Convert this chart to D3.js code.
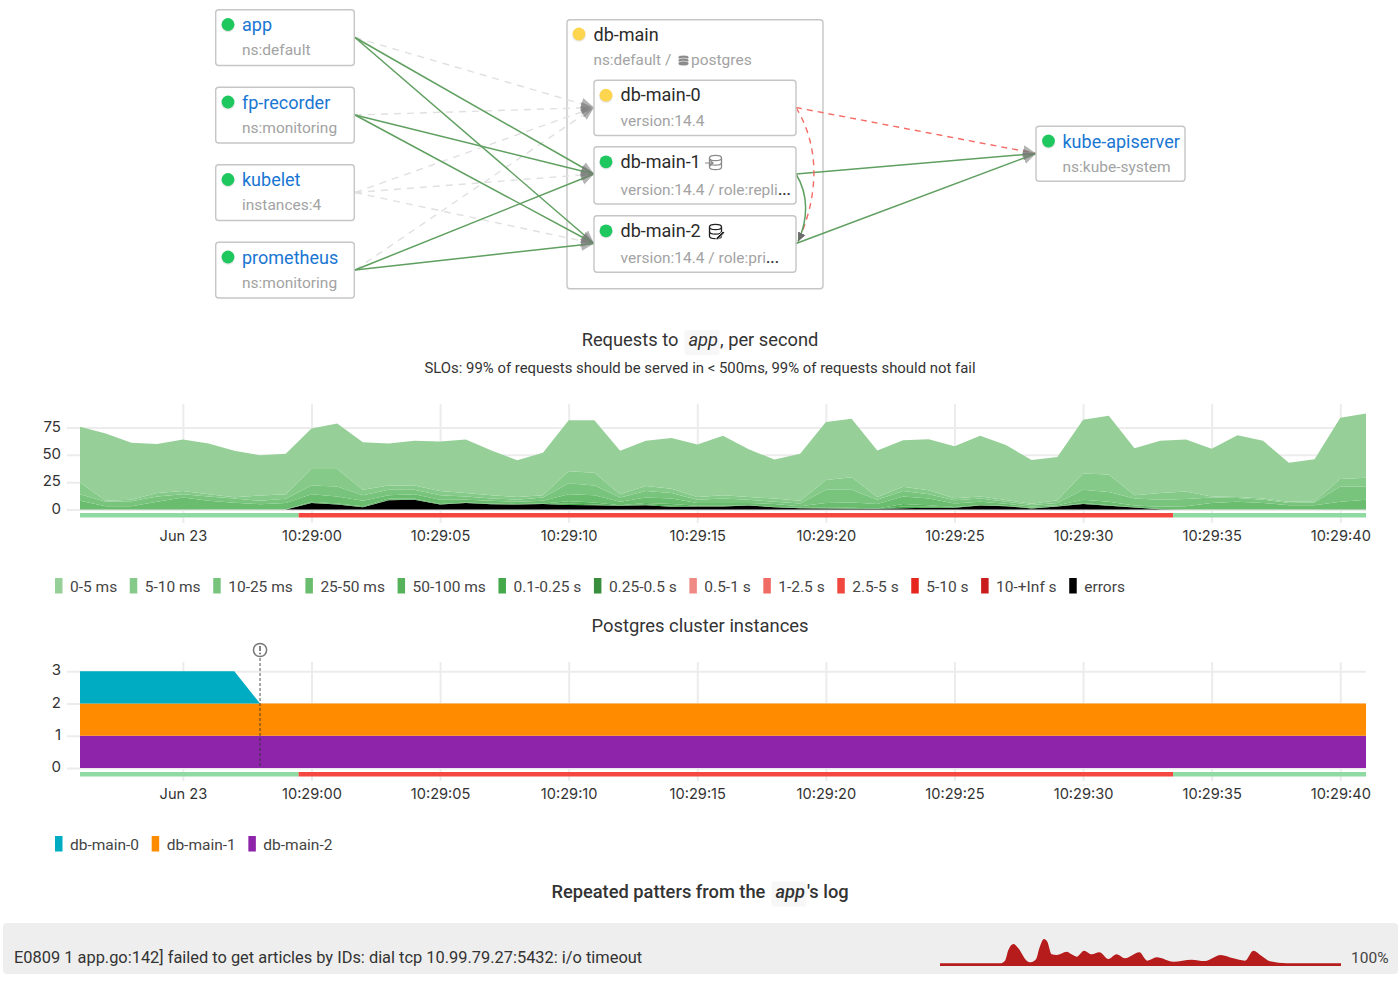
<!DOCTYPE html>
<html><head><meta charset="utf-8">
<script src="https://cdnjs.cloudflare.com/ajax/libs/d3/7.8.5/d3.min.js"></script>
<style>
html,body{margin:0;padding:0;background:#fff}
svg{display:block}
text{font-family:Roboto,sans-serif}
.tick text{font-family:Inter,"Open Sans",sans-serif}
</style></head><body>
<svg id="c" width="1400" height="993"></svg>
<script>
// ---------- data ----------
const seconds = d3.range(-9, 42);
const tickSeconds = [-5,0,5,10,15,20,25,30,35,40];
const tickLabels = ['Jun 23','10:29:00','10:29:05','10:29:10','10:29:15','10:29:20','10:29:25','10:29:30','10:29:35','10:29:40'];
const yTicksRequests = [0,25,50,75];
const yTicksInstances = [0,1,2,3];

const latency0_5 = [50.6,61.5,52,45,47,46.4,42.7,36.7,37,37,41.7,43.6,38.4,40.8,45.2,49,41,33.5,39,46.7,48.2,39.7,41.2,46.5,48,54.4,43.5,35.7,43,53,53.6,42.5,42.7,46.6,47.5,55.4,50.3,40,39.5,49,53.7,43,47.8,47.5,43.5,56.5,52.8,35.7,38.5,56,58.8];
const latency5_10 = [11,1,1.5,3,3,2,1,5,4,15,16,5,4,4,4,3,3,2.5,2,11,11.5,3,4.6,4,2.5,3,2.5,3,2.5,9,11.5,2.5,3.7,3.7,2,2,1.5,1,2.5,15,16,3,6,7,1,1,1,1,1,7,8];
const latency10_25 = [6,4,4.5,5,3,4,4,3,4,8,9,5,5,4,4,3,2,2,3,10,9,4,6,5,3,4,3,2,2.5,12,11.5,4,5,4,3,3,2,1.5,2,9,9,6.5,6.5,6.5,5,3.5,3,2,2.5,14,12];
const latency25_50 = [7.5,2.6,2.6,6.5,10.5,7.7,5.8,4.6,5.6,7,6.5,5,3,4,4,2.5,2.5,2,2.5,6.5,6.5,3,5,5,2.6,2.6,2,2.6,1.4,4.5,5,4,7,6,3,2.8,1.7,1.2,1,3,2.9,1.6,2,2.8,5.8,6.8,5.8,3.8,3.8,6.6,8.6];
const latency50_100 = [0.3,0.2,0.2,0.3,0.3,0.2,0.2,0.2,0.2,0.7,0.7,0.6,1,0.6,0.4,0.4,0.4,0.3,0.4,2,2,0.3,1.3,1.6,0.5,0.5,0.3,0.3,0.3,0.3,0.5,0.3,2.3,1.2,0.4,0.3,0.2,0.2,0.2,0.6,0.4,0.1,0.1,0.1,0.1,0.1,0.1,0.1,0.1,0.2,0.2];
const latency100_250 = [0.2,0.2,0.2,0.2,0.2,0.1,0.1,0.1,0.1,0.3,0.3,0.4,0.5,0.4,0.1,0.1,0.2,0.2,0.1,1.3,0.5,0.2,0.7,0.9,0.2,0.2,0.1,0.1,0.1,0.2,0.4,0.1,1.5,1.3,0.5,0.3,0.3,0.3,0.1,0.4,0.2,0.1,0.1,0.1,0.1,0.1,0.1,0.1,0.1,0.2,0.2];
const latencyEmpty = seconds.map(() => 0);
const errorsPerSecond = [0,0,0,0,0,0,0,0,0,6,4.5,2,8.5,9,4.5,6,4.9,4.5,5,4.2,4,3.5,4,2.5,2.7,2.7,3.6,2,1.2,1,0.6,0.6,1.2,1.5,1.5,3.6,3,1,2.7,5,3.5,1.8,0.3,0,0,0,0,0,0,0,0];

const requestNames = ['0-5 ms','5-10 ms','10-25 ms','25-50 ms','50-100 ms','0.1-0.25 s','0.25-0.5 s','0.5-1 s','1-2.5 s','2.5-5 s','5-10 s','10-+Inf s','errors'];
const requestColors = ['#96d098','#86ca8a','#79c47d','#6abc6e','#57b25c','#45a84a','#388e3c','#ef8a85','#ef6b63','#f0483f','#e6251e','#c91c1c','#000000'];
const requestValues = [latency0_5,latency5_10,latency10_25,latency25_50,latency50_100,latency100_250,latencyEmpty,latencyEmpty,latencyEmpty,latencyEmpty,latencyEmpty,latencyEmpty,errorsPerSecond];

const instanceNames = ['db-main-0','db-main-1','db-main-2'];
const instanceColors = ['#00acc1','#ff8c00','#8e24aa'];
const instanceSeconds = [-9,-3,-2,41];
const instance0 = [1,1,0,0];
const instance1 = [1,1,1,1];
const instance2 = [1,1,1,1];

const slaBreachStart = -0.5, slaBreachEnd = 33.5, chartStart = -9, chartEnd = 41;
const eventSecond = -2;

const sparkPos = [0,180,195,205,220,235,260,272,288,298,312,322,335,350,380,395,410,432,455,478,505,530,555,598,622,650,700,755,795,842,880,915,940,965,990,1040,1203];
const sparkVal = [8,8,16,48,66,53,16,11,20,53,81,73,35,33,43,35,28,46,35,41,21,35,23,41,16,26,13,19,15,33,23,16,46,30,14,8,8];

const upstreamNodes = [['app','ns:default'],['fp-recorder','ns:monitoring'],['kubelet','instances:4'],['prometheus','ns:monitoring']];
const dbNodes = [['db-main-0','version:14.4','','warn'],['db-main-1','version:14.4 / role:repli','...','ok'],['db-main-2','version:14.4 / role:pri','...','ok']];
const edgesIn = [['app',0,'off'],['app',1,'ok'],['app',2,'ok'],['fp-recorder',0,'off'],['fp-recorder',1,'ok'],['fp-recorder',2,'ok'],['kubelet',0,'off'],['kubelet',1,'off'],['kubelet',2,'off'],['prometheus',0,'off'],['prometheus',1,'ok'],['prometheus',2,'ok']];
const edgesOut = [[0,'bad'],[1,'ok'],[2,'ok']];

const logLine = 'E0809 1 app.go:142] failed to get articles by IDs: dial tcp 10.99.79.27:5432: i/o timeout';

// ---------- layout ----------
const svg = d3.select('#c');
const base = new Date(2023,5,23,10,29,0);
const toDate = s => new Date(+base + s*1000);
const X = d3.scaleTime().domain([toDate(chartStart),toDate(chartEnd)]).range([80,1366]);

const GREEN='#1fc75f', YELLOW='#fdd54f', BLUE='#1976d2', GREY='#a3a3a3', DARK='#333', BORDER='#c6c6c6';

function richTitle(y, pieces, size, weight){
  const g = svg.append('g');
  const items = pieces.map(p=>{
    const t = g.append('text').attr('y',y).attr('font-size',size).attr('font-weight',weight||400).attr('fill',DARK)
      .attr('font-style',p.code?'italic':'normal').attr('xml:space','preserve').style('white-space','pre').text(p.t);
    return {t,p,w:t.node().getComputedTextLength()};
  });
  const total = d3.sum(items,d=>d.w+(d.p.code?7.5:0));
  let x = 700-total/2;
  items.forEach(d=>{
    if(d.p.code){
      g.insert('rect','text').attr('x',x+1.5).attr('y',y-16).attr('width',d.w+5.5).attr('height',25).attr('rx',2).attr('fill','#f7f7f7');
      d.t.attr('x',x+5.5); x+=d.w+7.5;
    } else { d.t.attr('x',x); x+=d.w; }
  });
}

function timeAxis(top,bottom,labelY){
  const g = svg.append('g').attr('transform',`translate(0,${bottom})`).call(
    d3.axisBottom(X).tickValues(tickSeconds.map(toDate)).tickSize(-(bottom-top)).tickFormat((d,i)=>tickLabels[i]));
  g.select('.domain').remove();
  g.selectAll('line').attr('stroke','#ececec').attr('stroke-width',2);
  g.selectAll('text').attr('y',labelY-bottom).attr('dy',0).attr('font-size',14.6).attr('fill',DARK);
}
function valueAxis(y,ticks){
  const g = svg.append('g').attr('transform','translate(80,0)').call(d3.axisLeft(y).tickValues(ticks).tickFormat(d3.format('d')));
  g.select('.domain').remove();
  g.selectAll('line').attr('x1',-13).attr('x2',1286).attr('stroke','#ececec').attr('stroke-width',2);
  g.selectAll('text').attr('x',-19).attr('dy','0.24em').attr('font-size',15).attr('fill',DARK);
}
function statusBar(y){
  const segs=[[chartStart,slaBreachStart,'#8fd9a2'],[slaBreachStart,slaBreachEnd,'#f4473f'],[slaBreachEnd,chartEnd,'#8fd9a2']];
  svg.append('g').selectAll('rect').data(segs).join('rect')
    .attr('x',d=>X(toDate(d[0]))).attr('width',d=>X(toDate(d[1]))-X(toDate(d[0])))
    .attr('y',y).attr('height',4.5).attr('fill',d=>d[2]);
}
function legend(y,names,colors){
  const g = svg.append('g');
  let x=55;
  names.forEach((n,i)=>{
    g.append('rect').attr('x',x).attr('y',y-8).attr('width',7.5).attr('height',15.5).attr('fill',colors[i]);
    const t=g.append('text').attr('x',x+15).attr('y',y+5.5).attr('font-size',15.5).attr('fill','#444').text(n);
    x+=15+t.node().getComputedTextLength()+12.6;
  });
}

// ---------- topology ----------
const upY = d3.scalePoint().domain(upstreamNodes.map(d=>d[0])).range([37.5,270]);
const dbBox = [[79.7,135.5],[146.3,204],[215.3,272.3]];
const dbIn = [107.5,174,243.5];
const kubeY = 153.5;
const defs = svg.append('defs');
defs.append('marker').attr('id','arrow').attr('markerUnits','userSpaceOnUse').attr('markerWidth',14).attr('markerHeight',16)
  .attr('refX',13).attr('refY',8).attr('orient','auto').append('path').attr('d','M0,2L13,8L0,14Z').attr('fill','#777').attr('opacity',.55);
defs.append('marker').attr('id','arrowS').attr('markerUnits','userSpaceOnUse').attr('markerWidth',10).attr('markerHeight',10)
  .attr('refX',9).attr('refY',5).attr('orient','auto').append('path').attr('d','M0,1L9,5L0,9Z').attr('fill','#666').attr('opacity',.8);

function box(x0,y0,x1,y1){
  svg.append('rect').attr('x',x0).attr('y',y0+.5).attr('width',x1-x0).attr('height',y1-y0-.5).attr('rx',3).attr('fill','#fff').attr('stroke',BORDER).attr('stroke-width',1.4);
}
function dot(x,y,c){
  svg.append('circle').attr('cx',x).attr('cy',y+1).attr('r',6.8).attr('fill','#000').attr('opacity',.1);
  svg.append('circle').attr('cx',x).attr('cy',y).attr('r',6.4).attr('fill',c);
}
function label(x,y,s,c,size){ return svg.append('text').attr('x',x).attr('y',y).attr('font-size',size).attr('fill',c).text(s); }
const edgeStyle={ok:{s:'#5f9f5f',w:1.5,d:null},off:{s:'#e0e0e0',w:1.4,d:'7 6'},bad:{s:'#f56b66',w:1.4,d:'6 5'}};
function edge(path,type,mk){
  const e=edgeStyle[type];
  svg.append('path').attr('d',path).attr('fill','none').attr('stroke',e.s).attr('stroke-width',e.w)
    .attr('stroke-dasharray',e.d).attr('marker-end',`url(#${mk||'arrow'})`);
}
box(567,19.3,823,288.7);
const lineXY=d3.line();
[...edgesIn].sort((a,b)=>(a[2]==='ok')-(b[2]==='ok')).forEach(([src,t,type])=>edge(lineXY([[355,upY(src)],[594,dbIn[t]]]),type));
edgesOut.forEach(([s,type])=>edge(lineXY([[796,dbIn[s]],[1036,kubeY]]),type));
edge(`M796,${dbIn[0]}C822,150 817,200 798,${dbIn[2]-2}`,'bad','arrowS');
edge(`M796,${dbIn[1]}C809,195 808,220 798,${dbIn[2]-2}`,'ok','arrowS');

upstreamNodes.forEach(([n,sub])=>{
  const c=upY(n);
  box(215.7,c-28.2,354.3,c+28);
  dot(228,c-13,GREEN);
  label(242,c-6.5,n,BLUE,18);
  label(242,c+17.5,sub,GREY,15.5);
});
dot(579,34,YELLOW);
label(593.5,40.5,'db-main','#2b2b2b',18);
label(593.5,64.5,'ns:default / ',GREY,15.3);
label(691,64.5,'postgres',GREY,15.5);
function cyl(x,y,w,h,stroke,fill){
  const g=svg.append('g').attr('fill',fill).attr('stroke',stroke).attr('stroke-width',1.3);
  g.append('path').attr('d',`M${x},${y}v${h}a${w/2},${w/4.5} 0 0 0 ${w},0v${-h}`);
  g.append('ellipse').attr('cx',x+w/2).attr('cy',y).attr('rx',w/2).attr('ry',w/4.5);
  g.append('path').attr('fill','none').attr('d',`M${x},${y+h/2}a${w/2},${w/4.5} 0 0 0 ${w},0`);
}
[57.5,60.5,63.5].forEach(cy=>svg.append('ellipse').attr('cx',683.5).attr('cy',cy).attr('rx',5.3).attr('ry',2.3).attr('fill','#8a8a8a').attr('stroke','#fff').attr('stroke-width',.6));
dbNodes.forEach(([n,sub,more,st],i)=>{
  const [a,b]=dbBox[i];
  box(594,a,796,b);
  dot(606,a+15.5,st==='warn'?YELLOW:GREEN);
  label(620.5,a+21.5,n,'#2b2b2b',18);
  const t=label(620.5,b-9.5,sub,GREY,15.5);
  if(more) t.append('tspan').attr('fill','#333').attr('font-weight',500).text(more);
});
// replica / primary role icons
cyl(709.5,158,12,9,'#8a8a8a','#fff');
svg.append('path').attr('d','M705,163h8m-3,-3l3,3l-3,3').attr('fill','none').attr('stroke','#8a8a8a').attr('stroke-width',1.2);
cyl(709.5,227,12,9,'#222','#fff');
svg.append('path').attr('d','M716,238l7,-7l1.7,1.7l-7,7h-1.7z').attr('fill','#222').attr('stroke','#fff').attr('stroke-width',.8);
box(1036,125.7,1185,181.3);
dot(1048.5,141,GREEN);
label(1062.5,147.5,'kube-apiserver',BLUE,18);
label(1062.5,171.5,'ns:kube-system',GREY,15.5);

// ---------- requests chart ----------
richTitle(346,[{t:'Requests to '},{t:'app',code:true},{t:', per second'}],18.3);
svg.append('text').attr('x',700).attr('y',373).attr('text-anchor','middle').attr('font-size',14.9).attr('fill',DARK)
  .text('SLOs: 99% of requests should be served in < 500ms, 99% of requests should not fail');
const yReq = d3.scaleLinear().domain([0,75]).range([509.5,427.5]);
timeAxis(404,523,541);
valueAxis(yReq,yTicksRequests);
const table = seconds.map((s,i)=>{const o={s};requestNames.forEach((n,k)=>o[n]=requestValues[k][i]);return o;});
const stackOrder=[...requestNames].reverse();
const stacked=d3.stack().keys(stackOrder)(table);
const areaReq=d3.area().x(d=>X(toDate(d.data.s))).y0(d=>yReq(d[0])).y1(d=>yReq(d[1]));
svg.append('g').selectAll('path').data(stacked).join('path')
  .attr('d',areaReq).attr('fill',d=>requestColors[requestNames.indexOf(d.key)]);
statusBar(513);
legend(586,requestNames,requestColors);

// ---------- instances chart ----------
richTitle(632,[{t:'Postgres cluster instances'}],18.4);
const yInst = d3.scaleLinear().domain([0,3]).range([768,671.3]);
timeAxis(662,781,799);
valueAxis(yInst,yTicksInstances);
const instTable=instanceSeconds.map((s,i)=>({s,'db-main-0':instance0[i],'db-main-1':instance1[i],'db-main-2':instance2[i]}));
const instStack=d3.stack().keys([...instanceNames].reverse())(instTable);
const areaInst=d3.area().x(d=>X(toDate(d.data.s))).y0(d=>yInst(d[0])).y1(d=>yInst(d[1]));
svg.append('g').selectAll('path').data(instStack).join('path')
  .attr('d',areaInst).attr('fill',d=>instanceColors[instanceNames.indexOf(d.key)]);
statusBar(772);
const ex=X(toDate(eventSecond));
svg.append('line').attr('x1',ex).attr('x2',ex).attr('y1',658).attr('y2',768).attr('stroke','#333').attr('stroke-width',1).attr('stroke-dasharray','3 2').attr('opacity',.85);
svg.append('circle').attr('cx',ex).attr('cy',650).attr('r',6.6).attr('fill','#fff').attr('stroke','#777').attr('stroke-width',1.5);
svg.append('line').attr('x1',ex).attr('x2',ex).attr('y1',646).attr('y2',651).attr('stroke','#666').attr('stroke-width',1.6);
svg.append('circle').attr('cx',ex).attr('cy',653.5).attr('r',.9).attr('fill','#666');
legend(844,instanceNames,instanceColors);

// ---------- log pattern ----------
richTitle(897.5,[{t:"Repeated patters from the "},{t:'app',code:true},{t:"'s log"}],18.3,500);
svg.append('rect').attr('x',3).attr('y',923).attr('width',1395).attr('height',51).attr('rx',4).attr('fill','#eeeeee');
label(14,962.5,logLine,'#333',16.4);
const sx=d3.scaleLinear().domain([0,1203]).range([940,1341]);
const sy=d3.scaleLinear().domain([0,81]).range([966,939]);
svg.append('path').attr('d',d3.area().x((d,i)=>sx(sparkPos[i])).y0(sy(0)).y1(d=>sy(d)).curve(d3.curveMonotoneX)(sparkVal)).attr('fill','#b71c1c');
label(1351,962.5,'100%','#444',15.5);
</script></body></html>
